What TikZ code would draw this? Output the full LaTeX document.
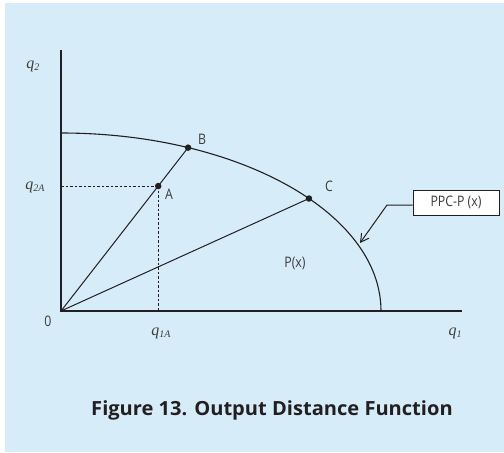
\documentclass[tikz,border=0pt]{standalone}
\usepackage{fontspec}
\usetikzlibrary{calc,arrows.meta}
\newfontfamily\capfont{Open Sans}
\newfontfamily\labfont{Open Sans}
\newfontfamily\qfont{Liberation Serif}
\definecolor{bgblue}{HTML}{D6ECF9}
\definecolor{ink}{HTML}{231F20}
\definecolor{labgray}{HTML}{3C3C3C}
\tikzset{
  axis/.style={draw=ink, line width=1.3pt},
  curveline/.style={draw=ink, line width=1.1pt},
  ray/.style={draw=ink, line width=1pt},
  guide/.style={draw=ink, line width=1pt, dash pattern=on 2.5pt off 2pt},
  dot/.style={circle, fill=ink, inner sep=0pt, minimum size=6.5pt},
  lab/.style={font=\labfont\fontsize{14.5}{14.5}\selectfont, text=labgray, inner sep=0pt},
  qlab/.style={font=\qfont\itshape\fontsize{16}{16}\selectfont, text=labgray, inner sep=0pt},
  callout/.style={draw=ink, line width=1pt, fill=white, minimum width=86pt, minimum height=25pt, inner sep=0pt, font=\labfont\fontsize{14.5}{14.5}\selectfont, text=labgray},
  pointer/.style={draw=ink, line width=1pt, -{Straight Barb[length=8pt,width=9pt,line width=1pt]}},
  caption/.style={font=\capfont\bfseries\fontsize{19.5}{19.5}\selectfont, text=ink, inner sep=0pt}
}
\newcommand{\qsub}[2]{#1\raisebox{-0.35ex}{\fontsize{10}{10}\selectfont #2}}
\begin{document}
\begin{tikzpicture}[x=1pt,y=-1pt]
\useasboundingbox (0,0) rectangle (504,453);
\fill[white] (0,0) rectangle (504,453);
\fill[bgblue] (5,3) rectangle (504,452);
% axes
\coordinate (O) at (61,311);
\coordinate (Ytop) at (61,50);
\coordinate (Xend) at (462,311);
\draw[axis] (Ytop) -- (O) -- (Xend);
% frontier (quarter ellipse)
\coordinate (Ptop) at (61,133);
\draw[curveline] (Ptop) arc[start angle=-90, end angle=0, x radius=320, y radius=178];
\coordinate (B) at ($(O)+(-66.6:320 and 178)$);
\coordinate (C) at ($(O)+(-39.2:320 and 178)$);
\coordinate (A) at ($(O)!0.765!(B)$);
% rays
\draw[ray] (O) -- (B);
\draw[ray] (O) -- (C);
% guides
\draw[guide] (A) -- (A -| O);
\draw[guide] (A) -- (A |- O);
% dots
\node[dot] (dB) at (B) {};
\node[dot] (dA) at (A) {};
\node[dot] (dC) at (C) {};
% labels
\node[lab] (lB) at (202,139) {\scalebox{0.85}[1]{B}};
\node[lab] (lA) at (169,194) {\scalebox{0.85}[1]{A}};
\node[lab] (lC) at (329,186) {\scalebox{0.85}[1]{C}};
\node[lab] (lP) at (295,263) {\scalebox{0.85}[1]{P(x)}};
\node[lab] (l0) at (48,321) {\scalebox{0.85}[1]{0}};
\node[qlab] (q2) at (33,66) {\qsub{q}{2}};
\node[qlab] (q2A) at (35,187) {\qsub{q}{2A}};
\node[qlab] (q1A) at (161,333) {\qsub{q}{1A}};
\node[qlab] (q1) at (455,333) {\qsub{q}{1}};
% callout
\node[callout] (box) at (456,202.5) {\scalebox{0.85}[1]{PPC-P (x)}};
\coordinate (knee) at (387,205);
\coordinate (tip) at (360,243);
\draw[pointer] (box.west |- knee) -- (knee) -- (tip);
% caption
\node[caption] (cap) at (272,410) {\scalebox{1.03}[1]{Figure 13. Output Distance Function}};
\end{tikzpicture}
\end{document}
